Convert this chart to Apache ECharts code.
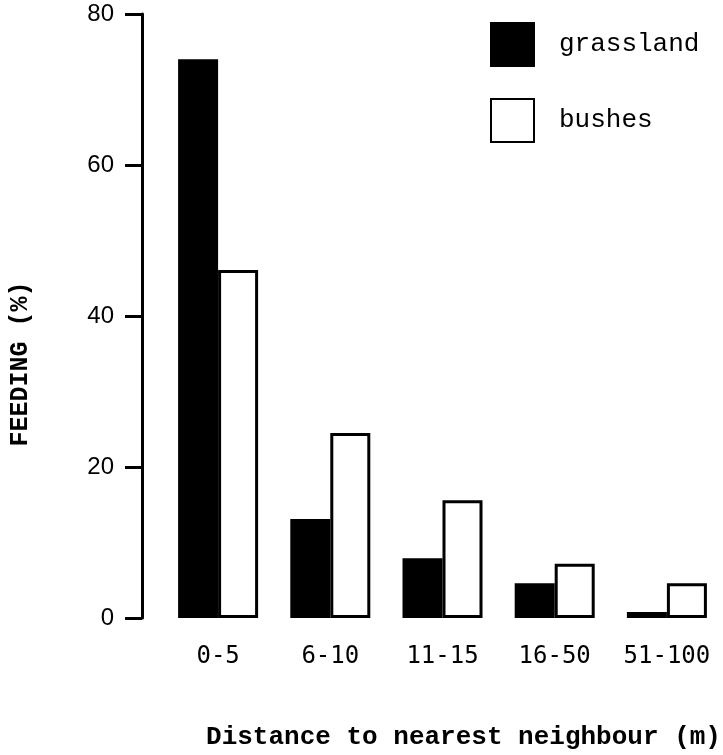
<!DOCTYPE html>
<html>
<head>
<meta charset="utf-8">
<script src="https://cdn.jsdelivr.net/npm/echarts@6/dist/echarts.min.js"></script>
<style>
  html, body { margin: 0; padding: 0; background: #fff; }
  #chart { width: 723px; height: 755px; }
</style>
</head>
<body>
<div id="chart"></div>
<script>
// distance classes (m)
var categories = ['0-5', '6-10', '11-15', '16-50', '51-100'];
// feeding (%)
var grassland = [74, 13.1, 7.9, 4.6, 0.8];
var bushes = [46.1, 24.5, 15.6, 7.2, 4.6];
var yTicks = [0, 20, 40, 60, 80];

var mono = '"Liberation Mono", "DejaVu Sans Mono", monospace';

var chart = echarts.init(document.getElementById('chart'));
var option = {
  backgroundColor: '#fff',
  animation: false,
  legend: {
    data: ['grassland', 'bushes'],
    orient: 'vertical',
    left: 485,
    top: 17,
    itemWidth: 43,
    itemHeight: 43,
    itemGap: 31,
    icon: 'rect',
    textStyle: {
      fontFamily: mono,
      fontSize: 26,
      color: '#000',
      padding: [0, 0, 0, 20]
    }
  },
  grid: {
    left: 160,
    top: 14,
    width: 565,
    bottom: 137
  },
  xAxis: {
    type: 'category',
    data: categories,
    axisLine: { show: false },
    axisTick: { show: false },
    axisLabel: {
      interval: 0,
      margin: 27,
      fontFamily: '"DejaVu Sans Mono", monospace',
      fontSize: 24,
      color: '#000'
    },
    name: 'Distance to nearest neighbour (m)',
    nameLocation: 'middle',
    nameGap: 106,
    nameTextStyle: {
      fontFamily: mono,
      fontWeight: 'bold',
      fontSize: 26,
      color: '#000',
      padding: [0, 0, 0, 42]
    }
  },
  yAxis: {
    type: 'value',
    min: yTicks[0],
    max: yTicks[yTicks.length - 1],
    interval: 20,
    offset: 20,
    splitLine: { show: false },
    axisLine: { show: true, lineStyle: { color: '#000', width: 3 } },
    axisTick: { show: true, length: 17, lineStyle: { color: '#000', width: 3 } },
    axisLabel: {
      margin: 28,
      fontFamily: '"Liberation Sans", Arial, sans-serif',
      fontSize: 24,
      color: '#000'
    },
    name: 'FEEDING (%)',
    nameLocation: 'middle',
    nameRotate: 90,
    nameGap: 109,
    nameTextStyle: {
      fontFamily: mono,
      fontWeight: 'bold',
      fontSize: 25,
      color: '#000',
      padding: [0, 96, 0, 0]
    }
  },
  series: [
    {
      name: 'grassland',
      type: 'bar',
      data: grassland,
      barWidth: 40,
      barGap: '0%',
      itemStyle: { color: '#000', borderColor: '#000', borderWidth: 2 }
    },
    {
      name: 'bushes',
      type: 'bar',
      data: bushes,
      barWidth: 40,
      barGap: '0%',
      itemStyle: { color: '#fff', borderColor: '#000', borderWidth: 3 }
    }
  ]
};
chart.setOption(option);
</script>
</body>
</html>
